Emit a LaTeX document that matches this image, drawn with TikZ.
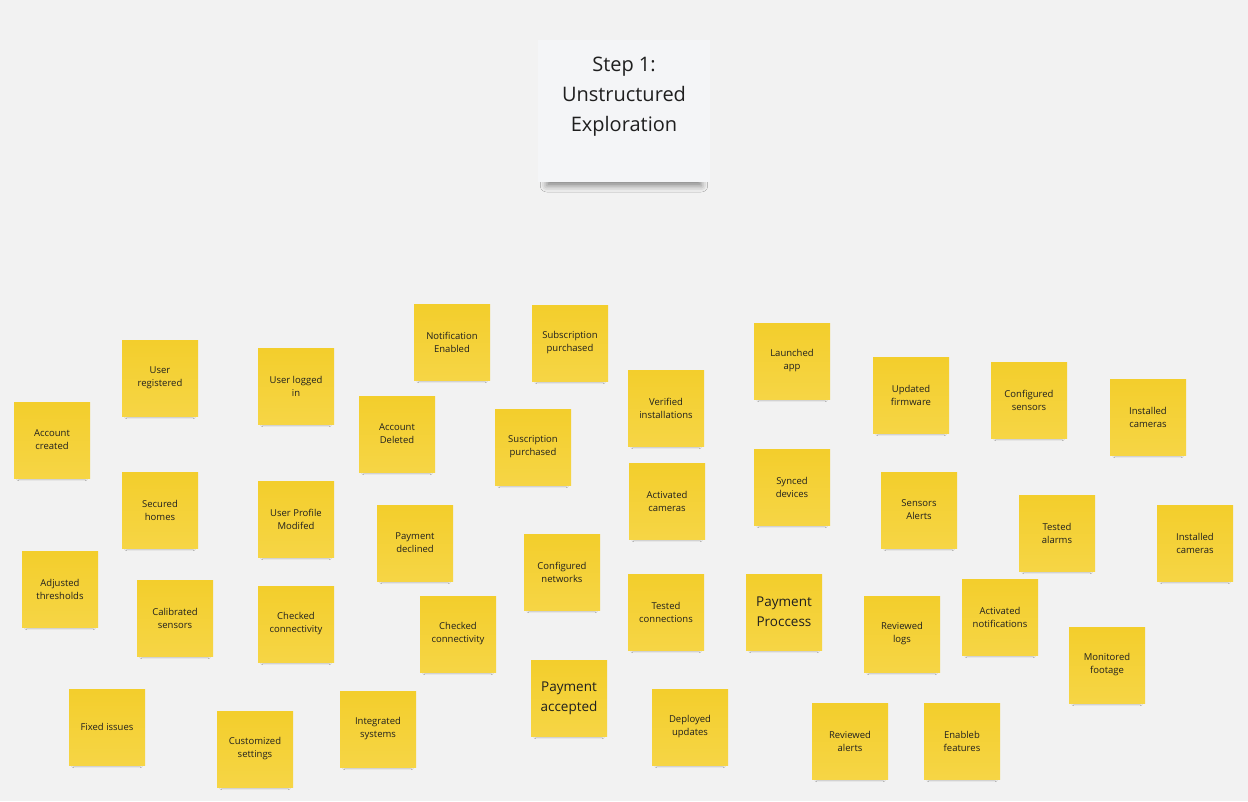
\documentclass[tikz,border=0pt]{standalone}
\usepackage{fontspec}
\setmainfont{Open Sans}
\usetikzlibrary{shadows.blur}
\definecolor{bgc}{HTML}{F2F2F2}
\definecolor{stickytop}{HTML}{F3CE2C}
\definecolor{stickybot}{HTML}{F6D545}
\definecolor{titlec}{HTML}{F4F5F7}
\definecolor{txt}{HTML}{1F1F1F}
\tikzset{
  note/.style={top color=stickytop, bottom color=stickybot, draw=none,
    minimum width=76pt, minimum height=76pt,
    inner sep=0pt, align=center, text=txt, font=\fontsize{9.5}{13}\selectfont,
    blur shadow={shadow xshift=0pt, shadow yshift=-6pt, shadow scale=0.86,
      shadow opacity=65, shadow blur radius=3.5pt}},
  bignote/.style={note, font=\fontsize{13.5}{20}\selectfont},
  titlenote/.style={fill=titlec, draw=none, minimum width=172pt, minimum height=142pt,
    inner sep=0pt,
    blur shadow={shadow xshift=0pt, shadow yshift=-12pt, shadow scale=0.9,
      shadow opacity=45, shadow blur radius=7pt}},
  titletext/.style={align=center, text=txt, inner sep=0pt, font=\fontsize{20}{30}\selectfont}
}
\begin{document}
\begin{tikzpicture}[x=1pt,y=-1pt]
\fill[bgc] (0,0) rectangle (1248,801);
\useasboundingbox (0,0) rectangle (1248,801);
\node[titlenote] (title) at (624,111) {};
\node[titletext] (titletxt) at (624,97) {Step 1:\\Unstructured\\Exploration};
% left area
\node[note] (n1) at (52,440) {Account\\created};
\node[note] (n2) at (160,378) {User\\registered};
\node[note] (n3) at (296,386) {User logged\\in};
\node[note] (n4) at (397,434) {Account\\Deleted};
\node[note] (n5) at (160,510) {Secured\\homes};
\node[note] (n6) at (296,519) {User Profile\\Modifed};
\node[note] (n7) at (60,589) {Adjusted\\thresholds};
\node[note] (n8) at (175,618) {Calibrated\\sensors};
\node[note] (n9) at (296,624) {Checked\\connectivity};
\node[note] (n10) at (107,727) {Fixed issues};
\node[note] (n11) at (255,749) {Customized\\settings};
\node[note] (n12) at (378,729) {Integrated\\systems};
% middle area
\node[note] (n13) at (452,342) {Notification\\Enabled};
\node[note] (n14) at (570,343) {Subscription\\purchased};
\node[note] (n15) at (666,408) {Verified\\installations};
\node[note] (n16) at (792,361) {Launched\\app};
\node[note] (n17) at (533,447) {Suscription\\purchased};
\node[note] (n18) at (667,501) {Activated\\cameras};
\node[note] (n19) at (792,487) {Synced\\devices};
\node[note] (n20) at (415,543) {Payment\\declined};
\node[note] (n21) at (562,572) {Configured\\networks};
\node[note] (n22) at (458,634) {Checked\\connectivity};
\node[note] (n23) at (666,612) {Tested\\connections};
\node[bignote] (n24) at (784,612) {Payment\\Proccess};
\node[bignote] (n25) at (569,698) {Payment\\accepted};
\node[note] (n26) at (690,727) {Deployed\\updates};
% right area
\node[note] (n27) at (911,395) {Updated\\firmware};
\node[note] (n28) at (1029,400) {Configured\\sensors};
\node[note] (n29) at (1148,417) {Installed\\cameras};
\node[note] (n30) at (919,510) {Sensors\\Alerts};
\node[note] (n31) at (1057,533) {Tested\\alarms};
\node[note] (n32) at (1195,543) {Installed\\cameras};
\node[note] (n33) at (902,634) {Reviewed\\logs};
\node[note] (n34) at (1000,617) {Activated\\notifications};
\node[note] (n35) at (1107,665) {Monitored\\footage};
\node[note] (n36) at (850,741) {Reviewed\\alerts};
\node[note] (n37) at (962,741) {Enableb\\features};
\end{tikzpicture}
\end{document}
